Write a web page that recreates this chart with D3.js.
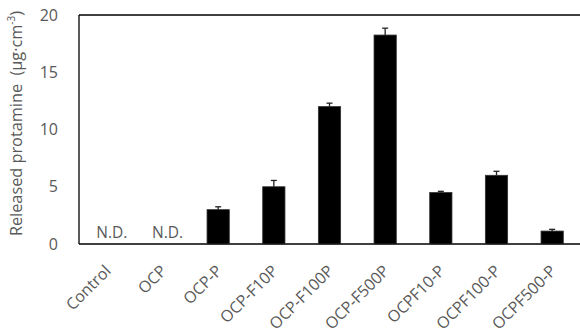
<!DOCTYPE html>
<html>
<head>
<meta charset="utf-8">
<script src="https://cdn.jsdelivr.net/npm/d3@7"></script>
<style>
  body { margin: 0; background: #fff; }
  svg { display: block; font-family: 'Open Sans', sans-serif; }
</style>
</head>
<body>
<script>
'use strict';

// chart data
const categories = ['Control', 'OCP', 'OCP-P', 'OCP-F10P', 'OCP-F100P', 'OCP-F500P', 'OCPF10-P', 'OCPF100-P', 'OCPF500-P'];
const values = [null, null, 3.0, 5.0, 12.0, 18.25, 4.5, 6.0, 1.13];
const errors = [null, null, 0.25, 0.55, 0.3, 0.6, 0.1, 0.35, 0.15];
const yTicks = [0, 5, 10, 15, 20];

(function() {
  const width = 580;
  const height = 331;
  const margin = { left: 79, right: 0, top: 15, bottom: 87 };
  const textColor = '#595959';

  const svg = d3
    .select('body')
    .append('svg')
    .attr('width', width)
    .attr('height', height);

  // scales
  const xScale = d3
    .scaleBand()
    .domain(categories)
    .range([margin.left, width - margin.right])
    .paddingInner(0.6)
    .paddingOuter(0.3);

  const yScale = d3
    .scaleLinear()
    .domain([0, 20])
    .range([height - margin.bottom, margin.top]);

  // frame: top, left, bottom lines
  const frame = svg.append('g').attr('stroke', '#000').attr('stroke-width', 1.3);
  frame.append('line')
    .attr('x1', margin.left).attr('x2', width)
    .attr('y1', yScale(20)).attr('y2', yScale(20));
  frame.append('line')
    .attr('x1', margin.left).attr('x2', margin.left)
    .attr('y1', yScale(20)).attr('y2', yScale(0));
  frame.append('line')
    .attr('x1', margin.left).attr('x2', width)
    .attr('y1', yScale(0)).attr('y2', yScale(0));

  // y axis labels (no tick marks)
  const yAxis = d3.axisLeft(yScale).tickValues(yTicks).tickSize(0).tickPadding(21);
  const gy = svg.append('g')
    .attr('transform', 'translate(' + margin.left + ',0)')
    .call(yAxis);
  gy.select('.domain').remove();
  gy.selectAll('text')
    .attr('fill', textColor)
    .style('font-family', "'Open Sans', sans-serif")
    .style('font-size', '16px');

  // x axis labels rotated
  const xAxis = d3.axisBottom(xScale).tickSize(0).tickPadding(0);
  const gx = svg.append('g')
    .attr('transform', 'translate(0,' + yScale(0) + ')')
    .call(xAxis);
  gx.select('.domain').remove();
  gx.selectAll('text')
    .attr('fill', textColor)
    .style('font-family', "'Open Sans', sans-serif")
    .style('font-size', '16px')
    .attr('text-anchor', 'end')
    .attr('dy', null)
    .attr('y', 0)
    .attr('transform', 'translate(5,28) rotate(-45)');

  // bars
  const rows = categories.map((c, i) => ({ cat: c, value: values[i], err: errors[i] }));
  const barRows = rows.filter(d => d.value !== null);

  svg.append('g')
    .selectAll('rect')
    .data(barRows)
    .enter()
    .append('rect')
    .attr('x', d => xScale(d.cat))
    .attr('y', d => yScale(d.value))
    .attr('width', xScale.bandwidth())
    .attr('height', d => yScale(0) - yScale(d.value))
    .attr('fill', '#000')
    .attr('stroke', '#333')
    .attr('stroke-width', 0.8);

  // error bars (upper half only)
  const errG = svg.append('g').attr('stroke', '#222').attr('stroke-width', 1.3);
  barRows.forEach(d => {
    const cx = xScale(d.cat) + xScale.bandwidth() / 2;
    errG.append('line')
      .attr('x1', cx).attr('x2', cx)
      .attr('y1', yScale(d.value)).attr('y2', yScale(d.value + d.err));
    errG.append('line')
      .attr('x1', cx - 3).attr('x2', cx + 3)
      .attr('y1', yScale(d.value + d.err)).attr('y2', yScale(d.value + d.err));
  });

  // N.D. labels
  svg.append('g')
    .selectAll('text')
    .data(rows.filter(d => d.value === null))
    .enter()
    .append('text')
    .attr('x', d => xScale(d.cat) + xScale.bandwidth() / 2 + 5)
    .attr('y', yScale(0) - 6)
    .attr('text-anchor', 'middle')
    .attr('fill', textColor)
    .style('font-size', '15.5px')
    .text('N.D.');

  // y axis title
  const title = svg.append('text')
    .attr('transform', 'translate(22,' + (yScale(10) - 6) + ') rotate(-90)')
    .attr('text-anchor', 'middle')
    .attr('fill', textColor)
    .style('font-size', '16.3px');
  title.append('tspan').text('Released protamine\u00a0\u00a0(μg·cm');
  title.append('tspan').attr('baseline-shift', 'super').style('font-size', '10px').text('-3');
  title.append('tspan').text(')');
})();
</script>
</body>
</html>
